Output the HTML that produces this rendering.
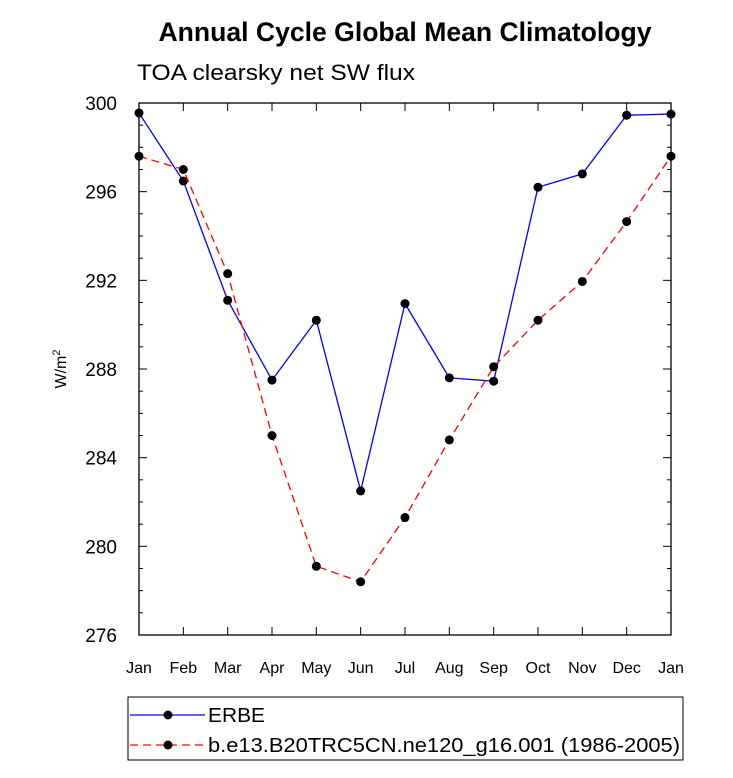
<!DOCTYPE html>
<html><head><meta charset="utf-8"><style>
body{margin:0;background:#fff;font-family:"Liberation Sans",sans-serif}
</style></head><body>
<svg width="733" height="773" viewBox="0 0 733 773" xmlns="http://www.w3.org/2000/svg" font-family="Liberation Sans, sans-serif">
<text x="405" y="41" text-anchor="middle" font-size="26.5" font-weight="bold" textLength="493" lengthAdjust="spacingAndGlyphs">Annual Cycle Global Mean Climatology</text>
<text x="137" y="80" font-size="22" textLength="278" lengthAdjust="spacingAndGlyphs">TOA clearsky net SW flux</text>
<g id="axes"></g>
<g id="series"></g>
<g>
<rect x="128" y="697" width="555" height="63" fill="none" stroke="#000" stroke-width="1"/>
<line x1="130" y1="715" x2="205" y2="715" stroke="#00f" stroke-width="1.3"/>
<circle cx="168" cy="715" r="4.5" fill="#000"/>
<text x="208" y="722" font-size="20" textLength="57" lengthAdjust="spacingAndGlyphs">ERBE</text>
<line x1="130" y1="745" x2="205" y2="745" stroke="#f00" stroke-width="1.3" stroke-dasharray="8,5"/>
<circle cx="168" cy="745" r="4.5" fill="#000"/>
<text x="208" y="752" font-size="20" textLength="472" lengthAdjust="spacingAndGlyphs">b.e13.B20TRC5CN.ne120_g16.001 (1986-2005)</text>
</g>
</svg>
<script>
const months=["Jan","Feb","Mar","Apr","May","Jun","Jul","Aug","Sep","Oct","Nov","Dec","Jan"];
const erbe=[299.55,296.48,291.1,287.5,290.2,282.5,290.95,287.6,287.45,296.2,296.8,299.45,299.5];
const model=[297.6,297.0,292.3,285.0,279.1,278.4,281.3,284.8,288.1,290.2,291.95,294.65,297.6];
const yTicks=[276,280,284,288,292,296,300];
const NS="http://www.w3.org/2000/svg";
const X0=139,X1=671,Y0=103,Y1=635,YMIN=276,YMAX=300;
const xs=i=>X0+(X1-X0)*i/(months.length-1);
const ys=v=>Y1-(v-YMIN)/(YMAX-YMIN)*(Y1-Y0);
function mk(t,a,p){const e=document.createElementNS(NS,t);for(const k in a)e.setAttribute(k,a[k]);p.appendChild(e);return e;}
const ax=document.getElementById('axes'),sr=document.getElementById('series');
const frame=mk('rect',{x:X0,y:Y0,width:X1-X0,height:Y1-Y0,fill:'none',stroke:'#000','stroke-width':1.3},ax);


for(let v=YMIN;v<=YMAX;v++){const y=ys(v);const L=(v%4===0)?8:4;
mk('line',{x1:X0,x2:X0+L,y1:y,y2:y,stroke:'#000'},ax);mk('line',{x1:X1,x2:X1-L,y1:y,y2:y,stroke:'#000'},ax);}
yTicks.forEach(v=>{const t=mk('text',{x:X0-22,y:ys(v)+7,'text-anchor':'end','font-size':19},ax);t.textContent=v;

});
months.forEach((m,i)=>{const x=xs(i);mk('line',{x1:x,x2:x,y1:Y1,y2:Y1-8,stroke:'#000'},ax);mk('line',{x1:x,x2:x,y1:Y0,y2:Y0+8,stroke:'#000'},ax);
const t=mk('text',{x:x,y:Y1+38,'text-anchor':'middle','font-size':16},ax);t.textContent=m;

});
const yl=mk('text',{x:0,y:0,transform:'translate(66,369) rotate(-90)','text-anchor':'middle','font-size':16},ax);
yl.innerHTML='W/m<tspan font-size="11" dy="-6">2</tspan>';


function series(d,col,dash,name){const pts=d.map((v,i)=>xs(i)+','+ys(v)).join(' ');
const pl=mk('polyline',{points:pts,fill:'none',stroke:col,'stroke-width':1.3,'stroke-dasharray':dash},sr);


d.forEach((v,i)=>{const c=mk('circle',{cx:xs(i),cy:ys(v),r:4.5,fill:'#000'},sr);

});}
series(erbe,'#00f','none','erbe');
series(model,'#f00','8,5','model');
</script>
</body></html>
